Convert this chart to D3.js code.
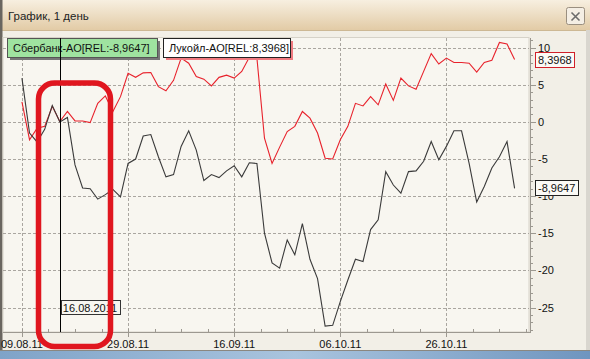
<!DOCTYPE html>
<html>
<head>
<meta charset="utf-8">
<script src="https://cdn.jsdelivr.net/npm/d3@7"></script>
<style>
  body { margin: 0; background: #f2efe7; }
  svg { display: block; font-family: "Liberation Sans", "DejaVu Sans", sans-serif; }
</style>
</head>
<body>
<script>
let width = 590
let height = 359

// trading day index -> value, 09.08.11 .. 08.11.11
const sber = [5.9, -1.5, -2.7, -1.0, 2.2, 0.0, 0.6, -5.8, -8.9, -9.0, -10.4, -9.8, -9.1, -10.1, -5.6,
  -5.0, -1.9, -1.7, -4.7, -7.4, -7.1, -3.3, -1.2, -3.8, -7.9, -7.1, -7.5, -6.6, -5.9, -7.4,
  -5.5, -5.6, -15.0, -19.0, -19.7, -15.9, -17.9, -13.7, -18.5, -21.1, -27.5, -27.4, -24.2, -21.3, -18.5,
  -18.8, -14.5, -13.2, -6.7, -8.5, -9.6, -6.7, -6.6, -5.3, -2.65, -5.1, -3.3, -1.2, -1.2, -5.6,
  -10.8, -8.7, -6.2, -4.7, -2.65, -8.9647]
const lukoil = [2.7, -2.4, -0.85, -0.6, 2.1, 0.05, 1.4, 0.13, 0.13, -0.1, 2.5, 3.5, 1.4, 3.4, 6.55,
  6.0, 6.6, 6.65, 4.75, 4.2, 5.6, 8.6, 7.9, 6.1, 5.75, 4.85, 6.0, 6.3, 5.9, 6.8,
  8.7, 8.6, -2.2, -5.6, -3.4, -1.3, -0.6, 1.4, 0.5, -1.5, -4.9, -5.0, -2.4, -0.6, 2.5,
  2.15, 3.4, 2.3, 5.1, 2.9, 5.9, 4.85, 4.4, 6.8, 9.2, 7.8, 8.6, 8.0, 8.0, 7.9,
  6.7, 8.0, 8.3, 10.7, 10.5, 8.3968]
const xTickIdx = [0, 14, 28, 42, 56]
const xTickLabels = ["09.08.11", "29.08.11", "16.09.11", "06.10.11", "26.10.11"]
const yTicks = [10, 5, 0, -5, -10, -15, -20, -25]
const legendLabels = ["Сбербанк-АО[REL:-8,9647]", "Лукойл-АО[REL:8,3968]"]
const lastLabels = ["-8,9647", "8,3968"]
const cursorIdx = 5
const cursorLabel = "16.08.2011"

const x = d3.scaleLinear().domain([-2.5, 66.9]).range([3, 529])
const y = d3.scaleLinear().domain([-28.3, 11.3]).range([332, 38])

const svg = d3.select("body").append("svg")
  .attr("width", width)
  .attr("height", height)

const defs = svg.append("defs")
const grad = defs.append("linearGradient").attr("id", "title").attr("x1", 0).attr("y1", 0).attr("x2", 0).attr("y2", 1)
grad.append("stop").attr("offset", "0%").attr("stop-color", "#f7efe0")
grad.append("stop").attr("offset", "100%").attr("stop-color", "#e2cba6")
const blue = defs.append("linearGradient").attr("id", "blue").attr("x1", 0).attr("y1", 0).attr("x2", 1).attr("y2", 0)
blue.append("stop").attr("offset", "0%").attr("stop-color", "#7fa3c8")
blue.append("stop").attr("offset", "50%").attr("stop-color", "#a9c4de")
blue.append("stop").attr("offset", "100%").attr("stop-color", "#6f95bf")
defs.append("clipPath").attr("id", "curclip")
  .append("rect").attr("x", x(cursorIdx) + 2).attr("y", 300).attr("width", 58).attr("height", 15)

// window frame
svg.append("rect").attr("width", width).attr("height", height).attr("fill", "#f2efe7")
svg.append("rect").attr("x", 0).attr("y", 0).attr("width", width).attr("height", 30).attr("fill", "url(#title)")
svg.append("line").attr("x1", 0).attr("x2", width).attr("y1", 30.5).attr("y2", 30.5).attr("stroke", "#cdb894")
svg.append("text").attr("x", 8).attr("y", 20).attr("font-size", 11.5).attr("fill", "#222").text("График, 1 день")
svg.append("rect").attr("x", 566.5).attr("y", 7.5).attr("width", 18).attr("height", 17).attr("rx", 2)
  .attr("fill", "#f4eee4").attr("stroke", "#9a8f80")
svg.append("path").attr("d", "M571.5,12.5 L579.5,20.5 M579.5,12.5 L571.5,20.5").attr("stroke", "#6b6b6b").attr("stroke-width", 1.6)
svg.append("rect").attr("x", 0).attr("y", 0).attr("width", 2.5).attr("height", height).attr("fill", "#6a6660")
svg.append("rect").attr("x", 586).attr("y", 30).attr("width", 4).attr("height", height).attr("fill", "#d9d6cf")
svg.append("rect").attr("x", 0).attr("y", 351).attr("width", width).attr("height", 8).attr("fill", "url(#blue)")
svg.append("line").attr("x1", 0).attr("x2", width).attr("y1", 350.5).attr("y2", 350.5).attr("stroke", "#8a8780")

// plot area
svg.append("rect").attr("x", 3).attr("y", 37.5).attr("width", 526).attr("height", 294.5)
  .attr("fill", "#f8f6f0").attr("stroke", "#d6d2c8")

// grid
svg.selectAll(".hgrid").data(yTicks).enter().append("line")
  .attr("x1", 3).attr("x2", 529)
  .attr("y1", d => Math.round(y(d)) + 0.5).attr("y2", d => Math.round(y(d)) + 0.5)
  .attr("stroke", "#aaa6a0").attr("stroke-dasharray", "3,2")
svg.selectAll(".vgrid").data(xTickIdx).enter().append("line")
  .attr("y1", 38).attr("y2", 332)
  .attr("x1", d => Math.round(x(d)) + 0.5).attr("x2", d => Math.round(x(d)) + 0.5)
  .attr("stroke", "#aaa6a0").attr("stroke-dasharray", "3,2")

// axes
const yAxis = svg.append("g")
yAxis.append("line").attr("x1", 530.5).attr("x2", 530.5).attr("y1", 38).attr("y2", 333).attr("stroke", "#9c9890")
yAxis.selectAll(".minor").data(d3.range(-28, 12)).enter().append("line")
  .attr("x1", 530).attr("x2", d => d % 5 === 0 ? 536 : 533)
  .attr("y1", d => Math.round(y(d)) + 0.5).attr("y2", d => Math.round(y(d)) + 0.5)
  .attr("stroke", "#9c9890")
yAxis.selectAll("text").data(yTicks).enter().append("text")
  .attr("x", 538).attr("y", d => y(d) + 4)
  .attr("font-size", 11).attr("fill", "#111")
  .text(d => d)

const xAxis = svg.append("g")
xAxis.append("line").attr("x1", 3).attr("x2", 531).attr("y1", 332.5).attr("y2", 332.5).attr("stroke", "#9c9890")
xAxis.selectAll(".minor").data(d3.range(0, 67, 3.5)).enter().append("line")
  .attr("x1", d => Math.round(x(d)) + 0.5).attr("x2", d => Math.round(x(d)) + 0.5)
  .attr("y1", 329).attr("y2", d => d % 14 === 0 ? 337 : 333)
  .attr("stroke", "#9c9890")
xAxis.selectAll("text").data(xTickIdx).enter().append("text")
  .attr("x", d => x(d)).attr("y", 348).attr("text-anchor", "middle")
  .attr("font-size", 11).attr("fill", "#111")
  .text((d, i) => xTickLabels[i])

// series
const line = d3.line().x((d, i) => x(i)).y(d => y(d))
svg.append("path").datum(lukoil).attr("d", line).attr("fill", "none").attr("stroke", "#e8222c").attr("stroke-width", 1.1)
svg.append("path").datum(sber).attr("d", line).attr("fill", "none").attr("stroke", "#3a3a3a").attr("stroke-width", 1.1)

// legend
const legend = [
  { x: 7, w: 150, fill: "#9fe3a0", shadow: "#777", stroke: "#555" },
  { x: 163, w: 127, fill: "#ffffff", shadow: "#f07a80", stroke: "#222" }
]
legend.forEach((l, i) => {
  svg.append("rect").attr("x", l.x + 3).attr("y", 41).attr("width", l.w).attr("height", 19).attr("fill", l.shadow)
  svg.append("rect").attr("x", l.x + 0.5).attr("y", 38.5).attr("width", l.w).attr("height", 19)
    .attr("fill", l.fill).attr("stroke", l.stroke)
  svg.append("text").attr("x", l.x + 6).attr("y", 52).attr("font-size", 11).attr("fill", "#111").text(legendLabels[i])
})

// last value labels
const lastVals = [sber[sber.length - 1], lukoil[lukoil.length - 1]]
const lastStroke = ["#222", "#d0202a"]
const lastW = [43, 39]
lastVals.forEach((v, i) => {
  svg.append("rect").attr("x", 535.5).attr("y", Math.round(y(v)) - 7.5).attr("width", lastW[i]).attr("height", 15)
    .attr("fill", "#fbfaf6").attr("stroke", lastStroke[i])
  svg.append("text").attr("x", 538).attr("y", y(v) + 4).attr("font-size", 11).attr("fill", "#111").text(lastLabels[i])
})

// cursor
svg.append("line").attr("x1", Math.round(x(cursorIdx)) + 0.5).attr("x2", Math.round(x(cursorIdx)) + 0.5)
  .attr("y1", 38).attr("y2", 332).attr("stroke", "#000")
svg.append("rect").attr("x", Math.round(x(cursorIdx)) + 1.5).attr("y", 300.5).attr("width", 59).attr("height", 14)
  .attr("fill", "#f8f6f0").attr("stroke", "#333")
svg.append("text").attr("x", x(cursorIdx) + 3).attr("y", 312).attr("font-size", 11).attr("fill", "#111")
  .attr("clip-path", "url(#curclip)").text(cursorLabel)

// red annotation
svg.append("rect").attr("x", 38.5).attr("y", 83).attr("width", 72).attr("height", 263.5).attr("rx", 16)
  .attr("fill", "none").attr("stroke", "#e0161f").attr("stroke-width", 5.5)
</script>
</body>
</html>
